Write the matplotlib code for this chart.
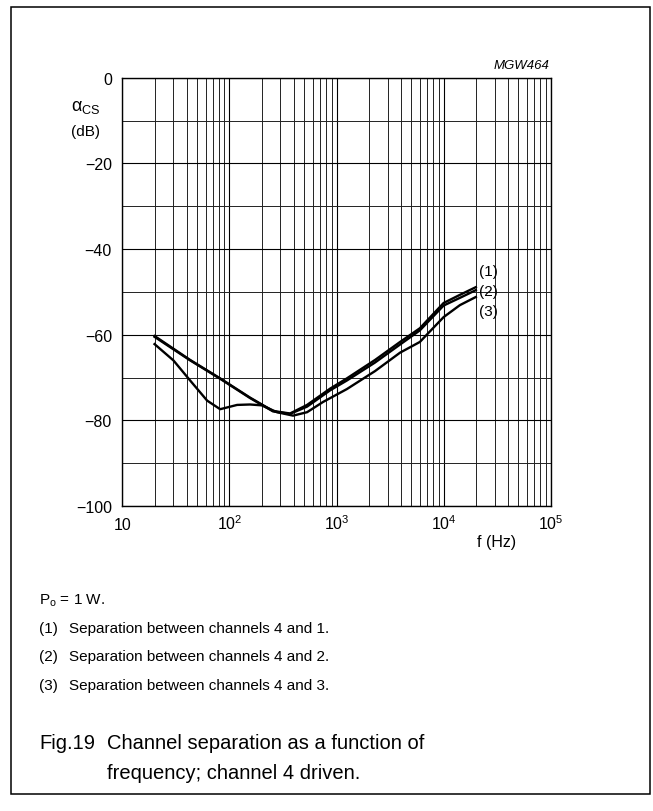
import matplotlib
matplotlib.use("Agg")
import matplotlib.pyplot as plt
from matplotlib.patches import Rectangle
from matplotlib.ticker import LogLocator, NullFormatter
import numpy as np

# channel separation readings (Hz, dB)
freq_1 = [20, 43, 82, 156, 255, 368, 531, 871, 1250, 2290, 3920, 6000, 10000, 14200, 20000]
sep_1 = [-60.3, -65.9, -70.2, -74.7, -77.8, -78.4, -76.4, -72.6, -70.2, -65.9, -61.7, -58.5, -52.6, -50.7, -48.9]

freq_2 = [20, 43, 82, 156, 255, 368, 531, 871, 1250, 2290, 3920, 6000, 10000, 14200, 20000]
sep_2 = [-60.5, -66.0, -70.3, -74.8, -77.9, -78.5, -76.8, -73.0, -70.7, -66.5, -62.3, -59.0, -53.2, -51.4, -49.6]

freq_3 = [20, 30, 43, 62, 82, 118, 156, 201, 278, 393, 531, 750, 1250, 2290, 3920, 6000, 10000, 14200, 20000]
sep_3 = [-62.2, -66.0, -70.7, -75.4, -77.4, -76.4, -76.3, -76.5, -78.1, -78.9, -78.1, -75.7, -72.7, -68.5, -64.2, -61.7, -55.9, -53.1, -51.2]

curve_labels = ["(1)", "(2)", "(3)"]
x_ticks = [10, 100, 1000, 10000, 100000]
x_tick_labels = ["10", r"$\mathrm{10^{2}}$", r"$\mathrm{10^{3}}$", r"$\mathrm{10^{4}}$", r"$\mathrm{10^{5}}$"]
y_ticks = [0, -20, -40, -60, -80, -100]
y_tick_labels = ["0", "\u221220", "\u221240", "\u221260", "\u221280", "\u2212100"]

notes = ["Separation between channels 4 and 1.",
         "Separation between channels 4 and 2.",
         "Separation between channels 4 and 3."]

plt.rcParams['font.family'] = ['Liberation Sans', 'DejaVu Sans']
plt.rcParams['mathtext.fontset'] = 'custom'
plt.rcParams['mathtext.rm'] = 'Liberation Sans'
plt.rcParams['mathtext.it'] = 'Liberation Sans:italic'

W, H = 653, 812


def fx(px):
    return px / W


def fy(py):
    return 1 - py / H


fig = plt.figure(figsize=(W / 100, H / 100), dpi=100)
ax = fig.add_axes([fx(122.3), fy(507), (550.7 - 122.3) / W, (507 - 78.7) / H])

ax.set_xscale('log')
ax.set_xlim(10, 1e5)
ax.set_ylim(-100, 0)

# grid: decades, sub-decades and every 10 dB
ax.xaxis.set_major_locator(LogLocator(base=10, numticks=10))
ax.xaxis.set_minor_locator(LogLocator(base=10, subs=np.arange(2, 10), numticks=20))
ax.xaxis.set_minor_formatter(NullFormatter())
ax.set_xticks(x_ticks)
ax.set_xticklabels([])
ax.set_yticks(y_ticks)
ax.set_yticklabels(y_tick_labels, fontsize=11.5)
ax.set_yticks(np.arange(-90, 0, 20), minor=True)
ax.tick_params(which='both', length=0)
ax.tick_params(axis='y', pad=7.5)
ax.grid(True, which='major', color='black', linewidth=0.8)
ax.grid(True, which='minor', color='#222222', linewidth=0.7)
for sp in ax.spines.values():
    sp.set_linewidth(1.0)

# x tick labels on a common baseline
for f, lab in zip(x_ticks, x_tick_labels):
    ax.text((np.log10(f) - 1) / 4, (507 - 530) / 428.3, lab, transform=ax.transAxes,
            ha='center', va='baseline', fontsize=11.5)

ax.plot(freq_1, sep_1, color='black', linewidth=1.7)
ax.plot(freq_2, sep_2, color='black', linewidth=1.7)
ax.plot(freq_3, sep_3, color='black', linewidth=1.7)

for lab, py in zip(curve_labels, [272, 292, 312]):
    fig.text(fx(479), fy(py), lab, ha='left', va='center', fontsize=11)

fig.text(fx(549), fy(66), "MGW464", ha='right', va='center', fontsize=9.5, style='italic')
fig.text(fx(86), fy(107), r"$\mathrm{\alpha_{CS}}$", ha='center', va='center', fontsize=13)
fig.text(fx(86), fy(132), "(dB)", ha='center', va='center', fontsize=11)
fig.text(fx(497), fy(542), "f (Hz)", ha='center', va='center', fontsize=11.5)

# notes below the chart
fig.text(fx(39), fy(605), r"$\mathrm{P_o}$ = 1 W.", ha='left', va='baseline', fontsize=11)
for i, note in enumerate(notes):
    py = 633 + 28.5 * i
    fig.text(fx(39), fy(py), curve_labels[i], ha='left', va='baseline', fontsize=11)
    fig.text(fx(69), fy(py), note, ha='left', va='baseline', fontsize=11)

fig.text(fx(39), fy(749), "Fig.19", ha='left', va='baseline', fontsize=14.5)
fig.text(fx(107), fy(749), "Channel separation as a function of", ha='left', va='baseline',
         fontsize=14.5)
fig.text(fx(107), fy(779), "frequency; channel 4 driven.", ha='left', va='baseline',
         fontsize=14.5)

# frame around the whole figure
fig.patches.append(Rectangle((fx(11), fy(795)), (650 - 11) / W, (795 - 8) / H,
                             transform=fig.transFigure, fill=False,
                             edgecolor='black', linewidth=1.1))

fig.savefig("out.png", dpi=100)
